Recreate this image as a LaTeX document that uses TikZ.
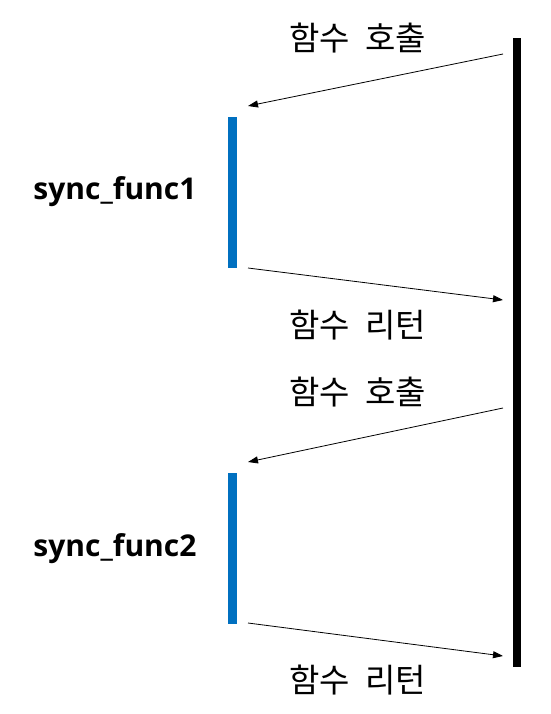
\documentclass[tikz,border=0pt]{standalone}
\usepackage{fontspec}
\setmainfont{Open Sans}
\newfontfamily\kr[WordSpace=2.1]{Noto Sans CJK KR}
\usetikzlibrary{arrows.meta}
\definecolor{barblue}{HTML}{0070C0}
\tikzset{
  mainbar/.style={fill=black, draw=none, inner sep=0pt, minimum width=8pt, minimum height=629pt},
  funcbar/.style={fill=barblue, draw=none, inner sep=0pt, minimum width=9pt, minimum height=151pt},
  msg/.style={line width=0.8pt, -{Triangle[length=10pt,width=7pt]}},
  lbl/.style={font=\kr\fontsize{33}{38}\selectfont, inner sep=0pt},
  fname/.style={font=\bfseries\fontsize{30}{36}\selectfont, inner sep=0pt}
}
\begin{document}
\begin{tikzpicture}[x=1pt,y=-1pt]
\useasboundingbox (0,0) rectangle (550,714);
\node[mainbar] (main) at (517,352.5) {};
\node[funcbar] (f1) at (232.5,192.5) {};
\node[funcbar] (f2) at (232.5,548) {};
\node[fname] (n1) at (115,192) {sync\_func1};
\node[fname] (n2) at (115,549) {sync\_func2};
\coordinate (c1s) at (503,54);
\coordinate (c1e) at (248,106);
\coordinate (r1s) at (248,268);
\coordinate (r1e) at (503,300);
\coordinate (c2s) at (503,408);
\coordinate (c2e) at (248,462);
\coordinate (r2s) at (248,623);
\coordinate (r2e) at (503,656);
\draw[msg] (c1s) -- (c1e);
\draw[msg] (r1s) -- (r1e);
\draw[msg] (c2s) -- (c2e);
\draw[msg] (r2s) -- (r2e);
\node[lbl] (t1) at (357.5,38) {함수 호출};
\node[lbl] (t2) at (357.5,325) {함수 리턴};
\node[lbl] (t3) at (357.5,392) {함수 호출};
\node[lbl] (t4) at (357.5,680) {함수 리턴};
\end{tikzpicture}
\end{document}
